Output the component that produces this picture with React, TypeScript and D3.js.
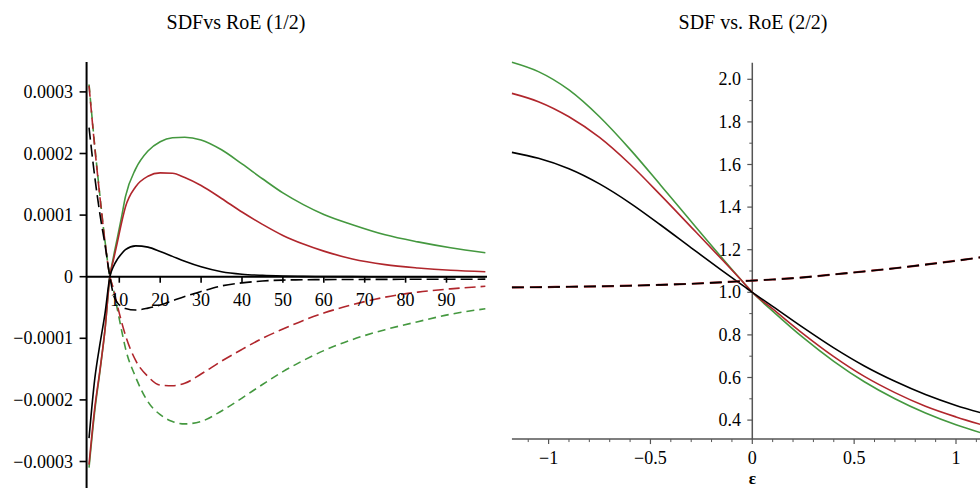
import React from "react";
import * as d3 from "d3";

// ---------- Left panel data (x, SDF values in units of 1e-4) ----------
const leftX = [2.6, 4, 5.3, 6.5, 7.7, 8.6, 9.5, 10.5, 11.5, 14, 17, 20, 23, 26, 30, 35, 40, 45, 50, 55, 60, 67, 75, 83, 91, 99.5];
const leftSolidGreen = [-3.1, -2.18, -1.52, -0.86, 0, 0.33, 0.62, 0.95, 1.3, 1.75, 2.04, 2.19, 2.255, 2.265, 2.22, 2.06, 1.83, 1.59, 1.36, 1.17, 1.01, 0.844, 0.68, 0.565, 0.47, 0.39];
const leftSolidRed = [-3.05, -2.13, -1.5, -0.86, 0, 0.28, 0.55, 0.86, 1.13, 1.46, 1.63, 1.685, 1.68, 1.61, 1.48, 1.27, 1.05, 0.85, 0.67, 0.53, 0.415, 0.287, 0.196, 0.142, 0.104, 0.08];
const leftSolidBlack = [-2.62, -1.66, -1.08, -0.6, 0, 0.17, 0.28, 0.37, 0.44, 0.5, 0.48, 0.41, 0.33, 0.25, 0.16, 0.08, 0.04, 0.022, 0.012, 0.006, 0.003, 0.001, 0, 0, 0, 0];
const leftDashGreen = [3.12, 2.12, 1.29, 0.58, 0, -0.22, -0.52, -0.85, -1.16, -1.63, -2.03, -2.24, -2.35, -2.39, -2.35, -2.18, -1.97, -1.75, -1.54, -1.36, -1.2, -1.02, -0.86, -0.73, -0.61, -0.52];
const leftDashRed = [3.1, 2.1, 1.27, 0.57, 0, -0.2, -0.46, -0.72, -0.95, -1.36, -1.62, -1.76, -1.77, -1.73, -1.58, -1.37, -1.18, -1.0, -0.85, -0.71, -0.59, -0.455, -0.332, -0.25, -0.197, -0.156];
const leftDashBlack = [2.42, 1.62, 1.0, 0.52, 0, -0.3, -0.42, -0.48, -0.515, -0.54, -0.51, -0.46, -0.39, -0.32, -0.24, -0.15, -0.1, -0.07, -0.055, -0.05, -0.047, -0.045, -0.043, -0.042, -0.041, -0.04];
const leftXTicks = [10, 20, 30, 40, 50, 60, 70, 80, 90];
const leftYTicks = [-0.0003, -0.0002, -0.0001, 0, 0.0001, 0.0002, 0.0003];

// ---------- Right panel data (epsilon, SDF) ----------
const rightX = [-1.18, -1.05, -0.9, -0.75, -0.6, -0.45, -0.3, -0.15, -0.035, 0, 0.1, 0.25, 0.4, 0.55, 0.7, 0.85, 1.0, 1.12];
const rightGreen = [2.08, 2.036, 1.95, 1.824, 1.671, 1.503, 1.332, 1.163, 1.037, 1.0, 0.912, 0.787, 0.676, 0.58, 0.5, 0.433, 0.378, 0.341];
const rightRed = [1.934, 1.895, 1.824, 1.727, 1.601, 1.456, 1.306, 1.155, 1.037, 1.0, 0.922, 0.805, 0.698, 0.605, 0.529, 0.465, 0.415, 0.38];
const rightBlack = [1.657, 1.629, 1.58, 1.509, 1.419, 1.316, 1.209, 1.103, 1.024, 1.0, 0.934, 0.834, 0.739, 0.654, 0.582, 0.52, 0.469, 0.435];
const rightDash = [1.023, 1.024, 1.026, 1.028, 1.031, 1.035, 1.04, 1.047, 1.053, 1.055, 1.06, 1.07, 1.084, 1.098, 1.113, 1.13, 1.148, 1.164];
const rightXMajor = [-1, -0.5, 0, 0.5, 1];
const rightXMajorLabels = ["\u22121", "\u22120.5", "0", "0.5", "1"];
const rightYMajor = [0.4, 0.6, 0.8, 1.0, 1.2, 1.4, 1.6, 1.8, 2.0];
const rightYMinor = [0.5, 0.7, 0.9, 1.1, 1.3, 1.5, 1.7, 1.9];

const GREEN = "#44983f";
const RED = "#b0262c";
const BLACK = "#000000";
const FONT = "'Liberation Serif', 'Times New Roman', Times, serif";

export default function App() {
  const xL = d3.scaleLinear().domain([0, 100]).range([78.4, 487.4]);
  const yL = d3.scaleLinear().domain([0, 0.0001]).range([276.7, 215.1]);
  const xR = d3.scaleLinear().domain([0, 1]).range([752.3, 956]);
  const yR = d3.scaleLinear().domain([1, 2]).range([292.3, 79.3]);

  const lineL = d3
    .line<[number, number]>()
    .x((d) => xL(d[0]))
    .y((d) => yL(d[1] * 1e-4))
    .curve(d3.curveMonotoneX);
  const lineR = d3
    .line<[number, number]>()
    .x((d) => xR(d[0]))
    .y((d) => yR(d[1]))
    .curve(d3.curveMonotoneX);

  const zipL = (ys: number[]) => leftX.map((x, i) => [x, ys[i]] as [number, number]);
  const zipR = (ys: number[]) => rightX.map((x, i) => [x, ys[i]] as [number, number]);

  const leftSeries = [
    { ys: leftSolidGreen, c: GREEN, dash: undefined as string | undefined },
    { ys: leftSolidRed, c: RED, dash: undefined },
    { ys: leftSolidBlack, c: BLACK, dash: undefined },
    { ys: leftDashGreen, c: GREEN, dash: "8,5" },
    { ys: leftDashRed, c: RED, dash: "11,5" },
    { ys: leftDashBlack, c: BLACK, dash: "12,5" },
  ];

  const fmtL = (v: number) => (v === 0 ? "0" : (v < 0 ? "\u2212" : "") + Math.abs(v).toFixed(4));

  const leftAxisX = xL(2);
  const zeroY = yL(0);

  const rightMinorX = d3
    .range(-11, 12)
    .map((k) => k / 10)
    .filter((v) => Math.abs(v * 2 - Math.round(v * 2)) > 1e-6);

  const axisR = "#555555";
  const rightAxisTop = yR(2.078);
  const rightAxisBottom = yR(0.311);
  const ts = { fontFamily: FONT } as React.CSSProperties;

  return (
    <div style={{ position: "absolute", left: 0, top: 0 }}>
      <svg width={980} height={488} style={{ display: "block", background: "#fff" }}>
        <text x={236} y={29} fontSize={20} textAnchor="middle" fill="#000" style={ts}>SDFvs RoE (1/2)</text>
        <text x={753} y={29} fontSize={20} textAnchor="middle" fill="#000" style={ts}>SDF vs. RoE (2/2)</text>

        {/* ---------- Left panel ---------- */}
        <g>
          {leftSeries.map((s, i) => (
            <path key={i} d={lineL(zipL(s.ys)) || ""} fill="none" stroke={s.c} strokeWidth={1.6} strokeDasharray={s.dash} />
          ))}
          <line x1={leftAxisX} x2={leftAxisX} y1={62} y2={488} stroke="#000" strokeWidth={2} />
          <line x1={leftAxisX} x2={487} y1={zeroY} y2={zeroY} stroke="#000" strokeWidth={2} />
          {leftYTicks.map((v) => (
            <g key={v}>
              <line x1={leftAxisX - 7} x2={leftAxisX} y1={yL(v)} y2={yL(v)} stroke="#000" strokeWidth={1.6} />
              <text x={73} y={yL(v) + 6} fontSize={18} textAnchor="end" fill="#000" style={ts}>{fmtL(v)}</text>
            </g>
          ))}
          {leftXTicks.map((v) => (
            <g key={v}>
              <line x1={xL(v)} x2={xL(v)} y1={zeroY} y2={zeroY + 6} stroke="#000" strokeWidth={1.6} />
              <text x={xL(v)} y={306} fontSize={18} textAnchor="middle" fill="#000" style={ts}>{v}</text>
            </g>
          ))}
        </g>

        {/* ---------- Right panel ---------- */}
        <g>
          <line x1={xR(0)} x2={xR(0)} y1={rightAxisTop} y2={rightAxisBottom} stroke={axisR} strokeWidth={1.5} />
          <line x1={xR(-1.18)} x2={980} y1={rightAxisBottom} y2={rightAxisBottom} stroke={axisR} strokeWidth={1.5} />
          {rightYMajor.map((v) => (
            <g key={v}>
              <line x1={xR(0) - 5} x2={xR(0)} y1={yR(v)} y2={yR(v)} stroke={axisR} strokeWidth={1.2} />
              <text x={741} y={yR(v) + 6} fontSize={18} textAnchor="end" fill="#000" style={ts}>{v.toFixed(1)}</text>
            </g>
          ))}
          {rightYMinor.map((v) => (
            <line key={v} x1={xR(0) - 3} x2={xR(0)} y1={yR(v)} y2={yR(v)} stroke={axisR} strokeWidth={1} />
          ))}
          {rightXMajor.map((v, i) => (
            <g key={v}>
              <line x1={xR(v)} x2={xR(v)} y1={rightAxisBottom} y2={rightAxisBottom + 5} stroke={axisR} strokeWidth={1.2} />
              <text x={xR(v)} y={464} fontSize={18} textAnchor="middle" fill="#000" style={ts}>{rightXMajorLabels[i]}</text>
            </g>
          ))}
          {rightMinorX.map((v) => (
            <line key={v} x1={xR(v)} x2={xR(v)} y1={rightAxisBottom} y2={rightAxisBottom + 3} stroke={axisR} strokeWidth={1} />
          ))}
          <text x={xR(0)} y={484} fontSize={17} fontWeight="bold" textAnchor="middle" fill="#000" style={ts}>ε</text>

          <path d={lineR(zipR(rightGreen)) || ""} fill="none" stroke={GREEN} strokeWidth={1.6} />
          <path d={lineR(zipR(rightRed)) || ""} fill="none" stroke={RED} strokeWidth={1.6} />
          <path d={lineR(zipR(rightBlack)) || ""} fill="none" stroke={BLACK} strokeWidth={1.6} />
          <path d={lineR(zipR(rightDash)) || ""} fill="none" stroke={RED} strokeWidth={2.2} strokeDasharray="12,6" />
          <path d={lineR(zipR(rightDash)) || ""} fill="none" stroke={BLACK} strokeWidth={1.6} strokeDasharray="12,6" />
        </g>
      </svg>
    </div>
  );
}
